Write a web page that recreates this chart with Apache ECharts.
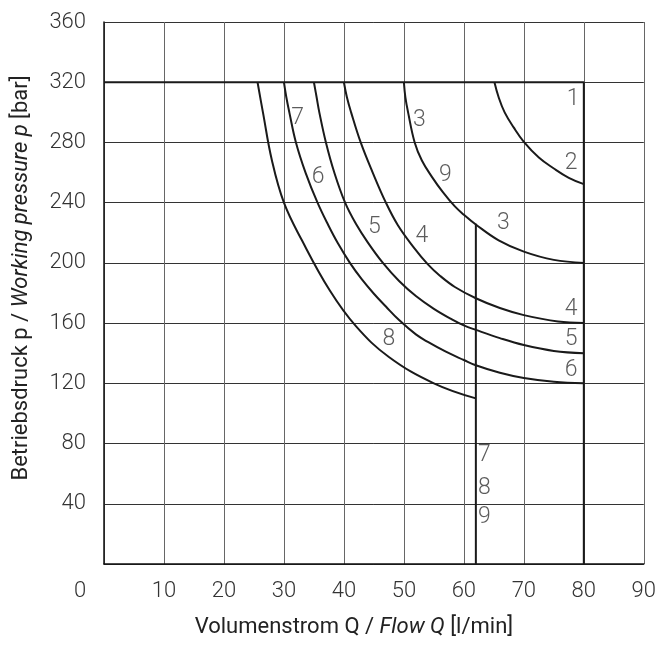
<!DOCTYPE html>
<html>
<head>
<meta charset="utf-8">
<script src="https://cdn.jsdelivr.net/npm/echarts@6/dist/echarts.min.js"></script>
<style>
  html, body { margin: 0; padding: 0; background: #fff; }
  #chart { width: 659px; height: 646px; }
</style>
</head>
<body>
<div id="chart"></div>
<script>
// Kennlinien [Q l/min, p bar]
const curve1 = [[0, 320], [80, 320], [80, 0]];
const curve2 = [[65.1, 320], [65.8, 310], [66.8, 300], [68.3, 290], [70, 280.4], [72.5, 270], [75, 262.7], [77.5, 256.5], [80, 252.3]];
const curve3 = [[50, 320], [50.25, 310], [50.7, 300], [51.8, 280], [53, 268], [54.7, 257], [56.5, 247], [58.5, 237.5], [60, 232], [62, 225.5], [65.8, 215], [70, 207.5], [75, 202], [80, 200]];
const curve4 = [[40, 320], [40.5, 310], [41.2, 300], [42.8, 280], [44.8, 260], [47, 240], [49, 225], [51.5, 211], [54, 199], [56, 191.5], [58.5, 184], [62, 176.5], [66, 170], [70, 165.3], [75.7, 161], [80, 160]];
const curve5 = [[35, 320], [35.45, 310], [35.9, 300], [37, 280], [38.4, 260], [40.2, 240], [42, 226], [44, 213.5], [46.5, 200], [49.2, 188], [52, 178], [55, 169.5], [58, 162.5], [60, 158.5], [62, 155.5], [66, 150], [70, 145.4], [75, 141.5], [80, 140]];
const curve6 = [[30, 320], [30.4, 310], [30.9, 300], [32, 280], [33.6, 260], [35.6, 240], [37.4, 225], [39, 213], [41, 200], [43, 189], [45, 179.5], [47, 171], [49.2, 162], [52, 152.5], [54, 147.5], [57, 141], [60, 135.5], [62, 132], [66, 127], [70, 123.5], [75, 121], [80, 120]];
const curve8 = [[25.6, 320], [26.5, 300], [28, 268], [30, 240], [33, 215], [37.6, 182], [42, 158], [47.5, 137.5], [55, 120], [62, 110]];
const limit789 = [[62, 226], [62, 0]];

// Kurvenbeschriftung
const labelText = ['1', '2', '3', '9', '3', '4', '5', '6', '7', '6', '5', '4', '8', '7', '8', '9'];
const labelQ = [78.2, 77.9, 52.6, 56.9, 66.6, 77.9, 77.9, 77.9, 32.3, 35.7, 45.1, 53.0, 47.5, 63.4, 63.4, 63.4];
const labelP = [309, 266, 295, 258, 226, 169, 149, 129, 296, 257, 224, 218, 149, 72, 50, 31];

const xMin = 0, xMax = 90, xStep = 10;
const yMin = 0, yMax = 360, yStep = 40;

const numFont = 'Roboto, sans-serif';
const nameFont = 'Roboto, sans-serif';
const ink = '#1a1a1a';

const myChart = echarts.init(document.getElementById('chart'));

function curve (data, smooth) {
  return {
    type: 'line',
    data: data,
    smooth: smooth ? 0.4 : false,
    symbol: 'none',
    silent: true,
    animation: false,
    lineStyle: { color: ink, width: 2 }
  };
}

const labels = labelText.map((t, i) => ({ value: [labelQ[i], labelP[i]], name: t }));

const option = {
  animation: false,
  grid: { left: 104, right: 13, top: 22, bottom: 82, containLabel: false },
  xAxis: {
    type: 'value',
    min: xMin, max: xMax, interval: xStep,
    name: '{a|Volumenstrom Q / }{i|Flow Q}{a| [l/min]}',
    nameLocation: 'middle',
    nameGap: 52,
    nameTextStyle: {
      padding: [0, 40, 0, 0],
      rich: {
        a: { fontFamily: nameFont, fontSize: 22, color: '#222' },
        i: { fontFamily: nameFont, fontSize: 22, color: '#222', fontStyle: 'italic' }
      }
    },
    axisLine: { show: true, lineStyle: { color: '#111', width: 1.5 } },
    axisTick: { show: false },
    axisLabel: {
      margin: 16,
      fontFamily: numFont, fontSize: 22, fontWeight: 300, color: '#333',
      formatter: v => v === 0 ? '{z|0}' : String(v),
      rich: { z: { fontFamily: numFont, fontSize: 22, fontWeight: 300, color: '#333', padding: [0, 48, 0, 0] } }
    },
    splitLine: { show: true, lineStyle: { color: '#666', width: 1 } }
  },
  yAxis: {
    type: 'value',
    min: yMin, max: yMax, interval: yStep,
    name: '{a|Betriebsdruck p / }{i|Working pressure p}{a| [bar]}',
    nameLocation: 'middle',
    nameGap: 72,
    nameTextStyle: {
      padding: [0, 0, 0, 30],
      rich: {
        a: { fontFamily: nameFont, fontSize: 22, color: '#222' },
        i: { fontFamily: nameFont, fontSize: 22, color: '#222', fontStyle: 'italic' }
      }
    },
    axisLine: { show: true, lineStyle: { color: '#111', width: 1.5 } },
    axisTick: { show: false },
    axisLabel: {
      margin: 18,
      fontFamily: numFont, fontSize: 22, fontWeight: 300, color: '#333',
      formatter: v => v === 0 ? '' : String(v)
    },
    splitLine: { show: true, lineStyle: { color: '#333', width: 1 } }
  },
  series: [
    curve(curve1, false),
    curve(curve2, true),
    curve(curve3, true),
    curve(curve4, true),
    curve(curve5, true),
    curve(curve6, true),
    curve(curve8, true),
    curve(limit789, false),
    {
      type: 'scatter',
      data: labels,
      symbolSize: 0,
      silent: true,
      animation: false,
      label: {
        show: true,
        position: 'inside',
        formatter: p => p.name,
        fontFamily: numFont, fontSize: 23, fontWeight: 300, color: '#333'
      }
    }
  ]
};

myChart.setOption(option);
window.onresize = () => { myChart.resize() };
</script>
</body>
</html>
